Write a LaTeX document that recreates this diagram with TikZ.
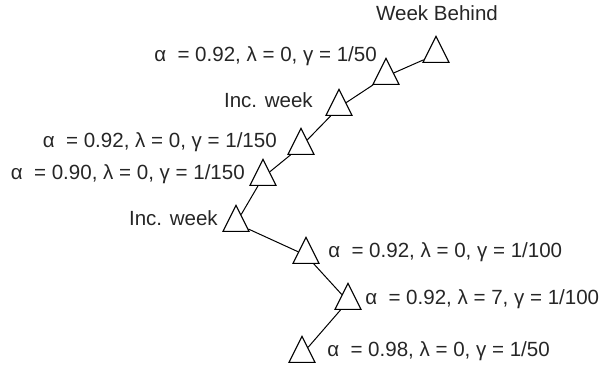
\documentclass[tikz,border=0pt]{standalone}
\usepackage{fontspec}
\setmainfont{Liberation Sans}
\usetikzlibrary{shapes.geometric, positioning}

\tikzset{
  tri/.style={draw, isosceles triangle, isosceles triangle stretches,
    shape border rotate=90, minimum width=19.5pt, minimum height=19.5pt,
    inner sep=0pt, anchor=apex, line width=0.8pt},
  lbl/.style={inner sep=0pt, font=\fontsize{15.4}{18}\selectfont, text=black!85},
  link/.style={line width=0.75pt}
}

\begin{document}
\begin{tikzpicture}[x=0.75pt, y=-0.75pt]
  \useasboundingbox (0,0) rectangle (603,367);
  % triangles, top to bottom
  \node[tri] (behind) at (436,35) {};
  \node[tri] (setA) at (386,57) {};
  \node[tri] (incA) at (339,88) {};
  \node[tri] (setB) at (301,127) {};
  \node[tri] (setC) at (263,158) {};
  \node[tri] (incB) at (236,204) {};
  \node[tri] (setD) at (306,236) {};
  \node[tri] (setE) at (348,282) {};
  \node[tri] (setF) at (302,335) {};
  % labels
  \node[lbl, anchor=base] (lbehind) at (437,21) {Week Behind};
  \node[lbl, anchor=base east] (lsetA) at (377,62) {α\ \ = 0.92, λ = 0, γ = 1/50};
  \node[lbl, anchor=base east] (lincA) at (313,108) {Inc. week};
  \node[lbl, anchor=base east] (lsetB) at (277,148) {α\ \ = 0.92, λ = 0, γ = 1/150};
  \node[lbl, anchor=base east] (lsetC) at (245,180) {α\ \ = 0.90, λ = 0, γ = 1/150};
  \node[lbl, anchor=base east] (lincB) at (218,225) {Inc. week};
  \node[lbl, anchor=base west] (lsetD) at (328,257) {α\ \ = 0.92, λ = 0, γ = 1/100};
  \node[lbl, anchor=base west] (lsetE) at (365,304) {α\ \ = 0.92, λ = 7, γ = 1/100};
  \node[lbl, anchor=base west] (lsetF) at (327,356) {α\ \ = 0.98, λ = 0, γ = 1/50};
  % chain
  \draw[link] (behind) -- (setA) -- (incA) -- (setB) -- (setC) -- (incB)
    -- (setD) -- (setE) -- (setF);
\end{tikzpicture}
\end{document}
